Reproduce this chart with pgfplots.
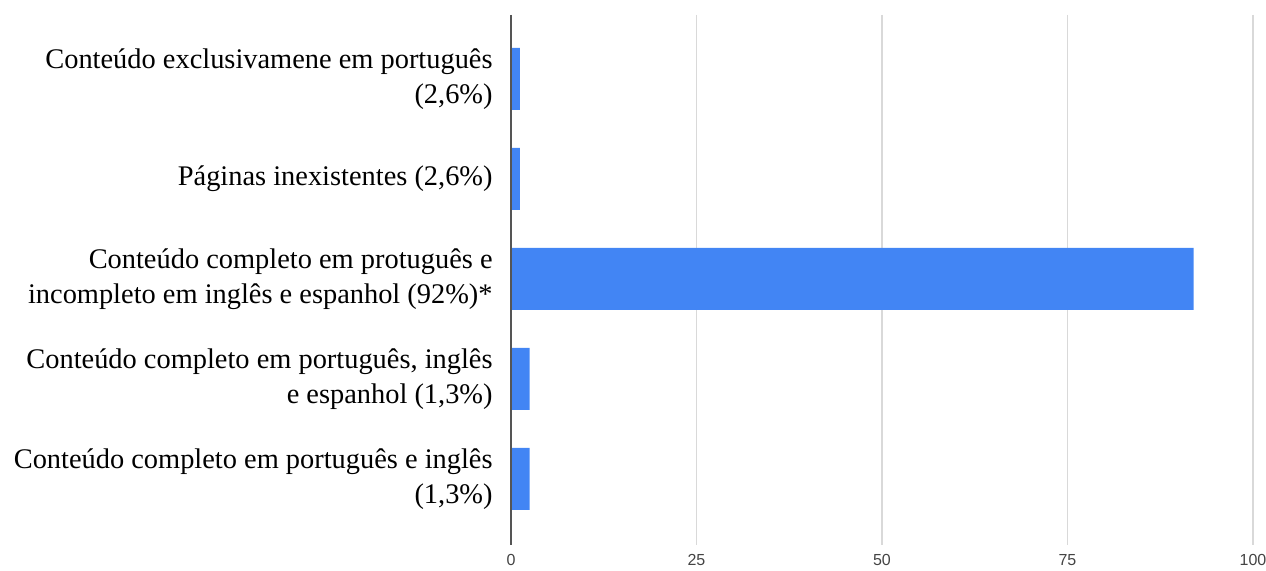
\documentclass[border=0pt]{standalone}
\usepackage{pgfplots}
\pgfplotsset{compat=1.18}
\usepackage{pgfplotstable}
\usepackage{fontspec}
\setmainfont{Liberation Serif}
\newfontfamily\tickfont{Liberation Sans}
\definecolor{barblue}{HTML}{4285F4}
\definecolor{gridgray}{HTML}{D9D9D9}
\definecolor{axisgray}{HTML}{555555}
\definecolor{ticktext}{HTML}{444444}
\pgfplotstableread{
idx value
0 1.2
1 1.2
2 92
3 2.5
4 2.5
}\datatable
\begin{document}
\begin{tikzpicture}
\begin{axis}[
  at={(0,0)}, anchor=south west,
  scale only axis,
  width=371pt, height=265pt,
  xbar,
  xmin=0, xmax=100,
  ymin=-0.64, ymax=4.66,
  y dir=reverse,
  bar width=31pt,
  axis line style={draw=none},
  xtick={0,25,50,75,100},
  xmajorgrids,
  grid style={gridgray, line width=0.8pt},
  major tick length=0pt,
  xticklabel style={font=\tickfont\fontsize{8}{9}\selectfont, text=ticktext, yshift=-1pt},
  /pgf/number format/assume math mode=true,
  ytick={0,1,2,3,4},
  yticklabels={
    {Conteúdo exclusivamene em português\\(2,6\%)},
    {Páginas inexistentes (2,6\%)},
    {Conteúdo completo em protuguês e\\incompleto em inglês e espanhol (92\%)*},
    {Conteúdo completo em português, inglês\\e espanhol (1,3\%)},
    {Conteúdo completo em português e inglês\\(1,3\%)}
  },
  yticklabel style={align=right, font=\fontsize{14.2}{17.8}\selectfont, text=black, inner xsep=0pt, xshift=-9pt},
  clip=false,
]
\addplot[fill=barblue, draw=none] table[x=value, y=idx] {\datatable};
\draw[axisgray, line width=0.8pt] (axis cs:0,-0.64) -- (axis cs:0,4.66);
\end{axis}
\pgfresetboundingbox
\useasboundingbox (-255.5pt,-13pt) rectangle (377.5pt,272.5pt);
\end{tikzpicture}
\end{document}
